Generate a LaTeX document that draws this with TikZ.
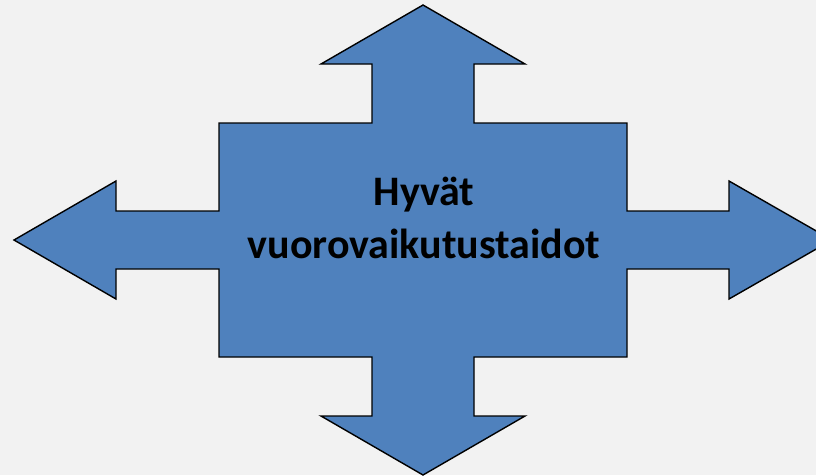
\documentclass[tikz,border=0pt]{standalone}
\usepackage{fontspec}
\setmainfont{Carlito}
\definecolor{arrowblue}{HTML}{4F81BD}
\definecolor{pagegrey}{HTML}{F2F2F2}
\begin{document}
\begin{tikzpicture}[x=1pt,y=-1pt,
    quadarrow/.style={draw=black, line width=1.4pt, line join=miter, fill=arrowblue},
    label/.style={font=\bfseries\fontsize{42}{53}\selectfont, align=center, inner sep=0pt}]
        % The background
        \fill[pagegrey] (0,0) rectangle (816,475);
        \clip (0,0) rectangle (816,475);

        % The four-way arrow
        \draw[quadarrow] (423,5) -- (525,64) -- (474,64) -- (474,123) -- (627,123)
            -- (627,211) -- (729,211) -- (729,181) -- (832,240) -- (729,299)
            -- (729,269) -- (627,269) -- (627,357) -- (474,357) -- (474,416)
            -- (525,416) -- (423,475) -- (321,416) -- (372,416) -- (372,357)
            -- (219,357) -- (219,269) -- (116,269) -- (116,299) -- (14,240)
            -- (116,181) -- (116,211) -- (219,211) -- (219,123) -- (372,123)
            -- (372,64) -- (321,64) -- cycle;

        % The text
        \node[label] (skills) at (424,218) {Hyvät\\vuorovaikutustaidot};
\end{tikzpicture}
\end{document}
